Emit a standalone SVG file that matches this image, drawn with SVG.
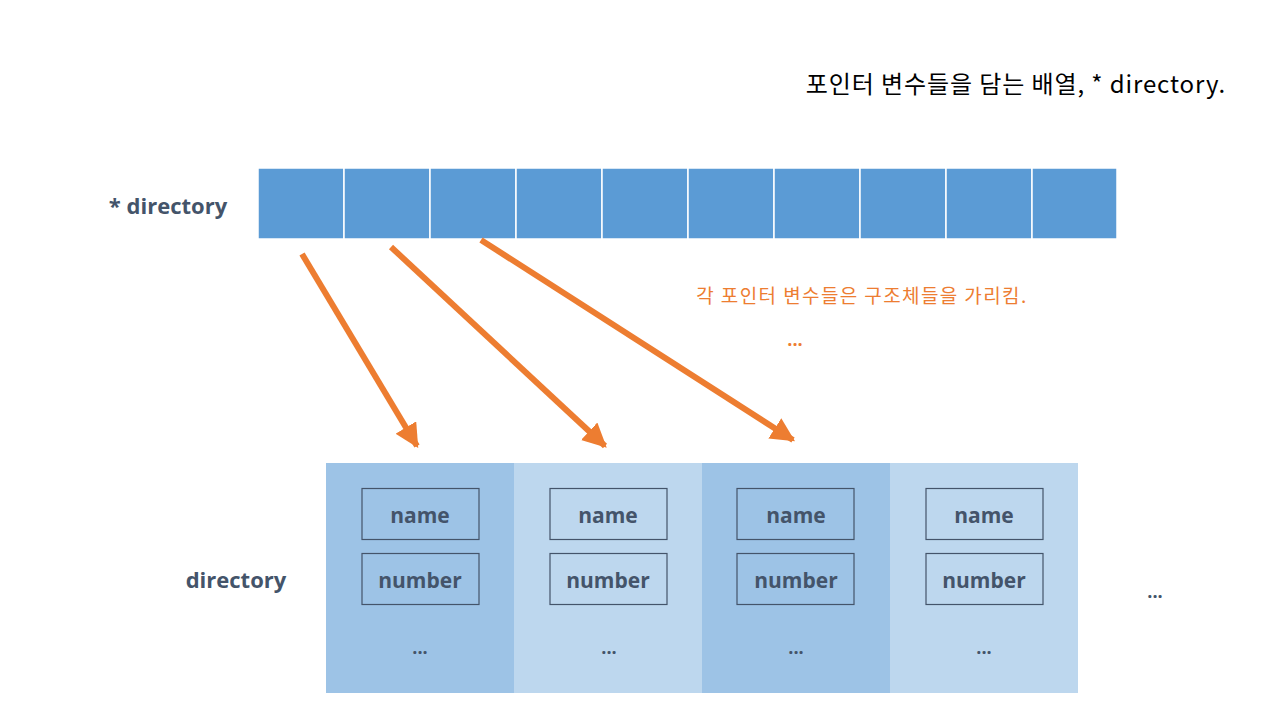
<svg xmlns="http://www.w3.org/2000/svg" width="1280" height="720" viewBox="0 0 1280 720">
<defs>
<style>
.cell{fill:#5B9BD5;stroke:#ffffff;stroke-width:1.5}
.dark{fill:#9DC3E6}
.light{fill:#BDD7EE}
.field{fill:none;stroke:#44546A;stroke-width:1.2}
.lbl{font-family:"Open Sans","Noto Sans",sans-serif;font-weight:bold;fill:#44546A;text-anchor:middle}
.conn{stroke:#ED7D31;stroke-width:6;fill:none}
</style>
<marker id="ah" viewBox="0 0 10 10" refX="9" refY="5" markerWidth="4" markerHeight="4" markerUnits="strokeWidth" orient="auto">
<path d="M0,0 L10,5 L0,10 z" fill="#ED7D31"/>
</marker>
</defs>
<rect width="1280" height="720" fill="#ffffff"/>
<text x="1226" y="93" text-anchor="end" font-family="'Noto Sans CJK KR',sans-serif" font-size="24" letter-spacing="0.9" fill="#000000">포인터 변수들을 담는 배열, * directory.</text>
<g id="pointer-array">
<text x="168" y="214" class="lbl" font-size="22">* directory</text>
<rect class="cell" x="258" y="168" width="86" height="71"/>
<rect class="cell" x="344" y="168" width="86" height="71"/>
<rect class="cell" x="430" y="168" width="86" height="71"/>
<rect class="cell" x="516" y="168" width="86" height="71"/>
<rect class="cell" x="602" y="168" width="86" height="71"/>
<rect class="cell" x="688" y="168" width="86" height="71"/>
<rect class="cell" x="774" y="168" width="86" height="71"/>
<rect class="cell" x="860" y="168" width="86" height="71"/>
<rect class="cell" x="946" y="168" width="86" height="71"/>
<rect class="cell" x="1032" y="168" width="85" height="71"/>
</g>
<g id="note">
<text x="862" y="303" text-anchor="middle" font-family="'Noto Sans CJK KR',sans-serif" font-size="19" letter-spacing="1.4" fill="#ED7D31">각 포인터 변수들은 구조체들을 가리킴.</text>
<text x="795" y="346" text-anchor="middle" font-family="'Open Sans',sans-serif" font-weight="bold" font-size="18" fill="#ED7D31">...</text>
</g>
<g id="struct-array">
<text x="236" y="588" class="lbl" font-size="22">directory</text>
<g id="struct1">
<rect class="dark" x="326" y="463" width="188" height="230"/>
<rect class="field" x="362" y="488.5" width="117" height="51"/>
<text x="420" y="523" class="lbl" font-size="21">name</text>
<rect class="field" x="362" y="553.5" width="117" height="51"/>
<text x="420" y="588" class="lbl" font-size="21">number</text>
<text x="420" y="654" class="lbl" font-size="18">...</text>
</g>
<g id="struct2">
<rect class="light" x="514" y="463" width="188" height="230"/>
<rect class="field" x="550" y="488.5" width="117" height="51"/>
<text x="608" y="523" class="lbl" font-size="21">name</text>
<rect class="field" x="550" y="553.5" width="117" height="51"/>
<text x="608" y="588" class="lbl" font-size="21">number</text>
<text x="609" y="654" class="lbl" font-size="18">...</text>
</g>
<g id="struct3">
<rect class="dark" x="702" y="463" width="188" height="230"/>
<rect class="field" x="737" y="488.5" width="117" height="51"/>
<text x="796" y="523" class="lbl" font-size="21">name</text>
<rect class="field" x="737" y="553.5" width="117" height="51"/>
<text x="796" y="588" class="lbl" font-size="21">number</text>
<text x="796" y="654" class="lbl" font-size="18">...</text>
</g>
<g id="struct4">
<rect class="light" x="890" y="463" width="188" height="230"/>
<rect class="field" x="926" y="488.5" width="117" height="51"/>
<text x="984" y="523" class="lbl" font-size="21">name</text>
<rect class="field" x="926" y="553.5" width="117" height="51"/>
<text x="984" y="588" class="lbl" font-size="21">number</text>
<text x="984" y="654" class="lbl" font-size="18">...</text>
</g>
<text x="1155" y="598" class="lbl" font-size="18">...</text>
</g>
<g id="connectors">
<line class="conn" x1="302" y1="254" x2="417" y2="446" marker-end="url(#ah)"/>
<line class="conn" x1="391" y1="247" x2="605" y2="446" marker-end="url(#ah)"/>
<line class="conn" x1="481" y1="240" x2="793" y2="440" marker-end="url(#ah)"/>
</g>
</svg>
